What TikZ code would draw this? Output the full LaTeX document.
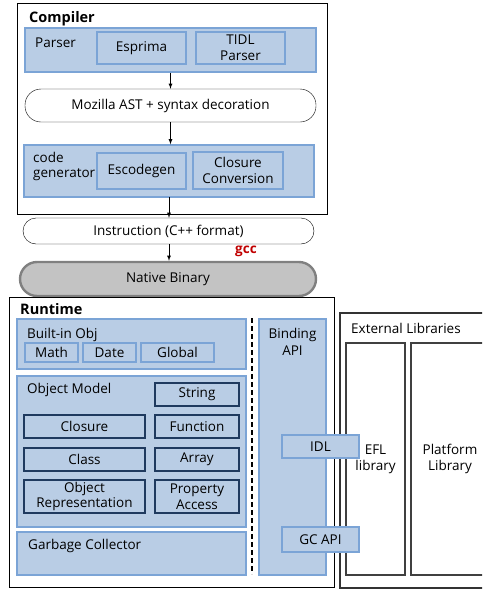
\documentclass[tikz,border=0pt]{standalone}
\usepackage{fontspec}
\setmainfont{Open Sans}
\usetikzlibrary{shadows}
\definecolor{boxblue}{HTML}{B9CDE5}
\definecolor{lineblue}{HTML}{7BA4D6}
\definecolor{navy}{HTML}{1F3A5F}
\definecolor{binarygray}{HTML}{C3C3C3}
\definecolor{gccred}{HTML}{C00000}

\begin{document}
\begin{tikzpicture}[x=1pt, y=-1pt, font=\fontsize{13.5}{16}\selectfont,
    layer/.style={draw=lineblue, fill=boxblue, line width=1.3pt, inner sep=0pt,
        drop shadow={shadow xshift=1pt, shadow yshift=-1pt, opacity=0.25}},
    part/.style={layer, align=center},
    core/.style={part, draw=navy, line width=2.6pt},
    stage/.style={draw, fill=white, rounded corners=13pt, inner sep=0pt},
    tag/.style={inner sep=0pt, anchor=base west, align=left},
    libbox/.style={draw=black!75, line width=1.2pt, fill=white, align=center, inner sep=0pt},
    flow/.style={-latex, thick}]
    \useasboundingbox (0,0) rectangle (482,589);
    \clip (0,0) rectangle (482,589);

    % compiler
    \draw[thick] (17,3) rectangle (327,214);
    \node[tag, font=\fontsize{14.5}{16}\selectfont\bfseries] (compiler) at (29,23) {Compiler};
    \node[layer, minimum width=291, minimum height=44] (parser) at (170.5,50) {};
    \node[tag] (parserlbl) at (35,47) {Parser};
    \node[part, minimum width=89, minimum height=32] (esprima) at (141.5,48) {Esprima};
    \node[part, minimum width=89, minimum height=32] (tidl) at (240.5,48) {TIDL\\Parser};
    \node[stage, minimum width=291, minimum height=33, rounded corners=16pt] (ast) at (170.5,105.5) {Mozilla AST + syntax decoration};
    \node[layer, minimum width=290, minimum height=52] (codegen) at (169,171) {};
    \node[tag, font=\fontsize{13.5}{14.5}\selectfont] (codegenlbl) at (33,177) {code\\generator};
    \node[part, minimum width=89, minimum height=36] (escodegen) at (141.5,171) {Escodegen};
    \node[part, minimum width=90, minimum height=37, font=\fontsize{13.5}{16.5}\selectfont] (closureconv) at (238,170.5) {Closure\\Conversion};
    \draw[flow] (parser.south -| ast) -- (ast);
    \draw[flow] (ast.south) -- (ast.south |- codegen.north);

    % output of the compiler
    \node[stage, minimum width=291, minimum height=26] (instr) at (168.5,231) {Instruction (C++ format)};
    \node[stage, fill=binarygray, draw=black!50, line width=2.4pt, minimum width=296, minimum height=34, rounded corners=17pt] (binary) at (168,279) {Native Binary};
    \node[inner sep=0pt, text=gccred, font=\fontsize{13.5}{16}\selectfont\bfseries] (gcc) at (246,251) {gcc};
    \coordinate (gen) at (169,197);
    \draw[flow] (gen) -- (gen |- instr.north);
    \draw[flow] (gen |- instr.south) -- (gen |- binary.north);

    % runtime
    \draw[thick] (9,297) rectangle (334,587);
    \node[tag, font=\fontsize{14.5}{16}\selectfont\bfseries] (runtime) at (20,314) {Runtime};
    \node[layer, minimum width=229, minimum height=50] (builtin) at (131.5,344) {};
    \node[tag] (builtinlbl) at (27,338) {Built-in Obj};
    \node[part, minimum width=53, minimum height=19] (math) at (51.5,352.5) {Math};
    \node[part, minimum width=53, minimum height=19] (date) at (109.5,352.5) {Date};
    \node[part, minimum width=73, minimum height=19] (global) at (177.5,352.5) {Global};

    \node[layer, minimum width=229, minimum height=151] (objmodel) at (131.5,451.5) {};
    \node[tag] (objmodellbl) at (27,393) {Object Model};
    \node[core, minimum width=84, minimum height=23] (string) at (197,394.5) {String};
    \node[core, minimum width=121, minimum height=23] (closure) at (84.5,426.5) {Closure};
    \node[core, minimum width=84, minimum height=23] (function) at (197,426.5) {Function};
    \node[core, minimum width=121, minimum height=23] (class) at (84.5,459.5) {Class};
    \node[core, minimum width=84, minimum height=23] (array) at (197,459.5) {Array};
    \node[core, minimum width=121, minimum height=33, font=\fontsize{13.5}{15.5}\selectfont] (objrep) at (84.5,496.5) {Object\\Representation};
    \node[core, minimum width=84, minimum height=33, font=\fontsize{13.5}{15.5}\selectfont] (propaccess) at (197,496.5) {Property\\Access};

    \node[layer, minimum width=229, minimum height=43] (gc) at (131.5,553.5) {};
    \node[tag] (gclbl) at (28,549) {Garbage Collector};

    \draw[line width=2.4pt, dash pattern=on 5pt off 3pt] (252,318) -- (252,574);

    \node[layer, minimum width=67, minimum height=256] (binding) at (292.5,447) {};
    \node[inner sep=0pt, align=center, anchor=base, font=\fontsize{13.5}{17}\selectfont] (bindinglbl) at (292.5,355) {Binding\\API};

    % external libraries
    \draw[line width=1.2pt, black!80] (340,313) rectangle (492,588);
    \node[tag] (extlbl) at (351,333) {External Libraries};
    \node[libbox, minimum width=59, minimum height=232, font=\fontsize{13.5}{16}\selectfont] (efl) at (375.5,459) {EFL\\library};
    \node[libbox, minimum width=78, minimum height=232, font=\fontsize{13.5}{16}\selectfont] (platform) at (450,459) {Platform\\Library};

    \node[part, minimum width=77, minimum height=23] (idl) at (320.5,446.5) {IDL};
    \node[part, minimum width=77, minimum height=25] (gcapi) at (320.5,539.5) {GC API};
\end{tikzpicture}
\end{document}
